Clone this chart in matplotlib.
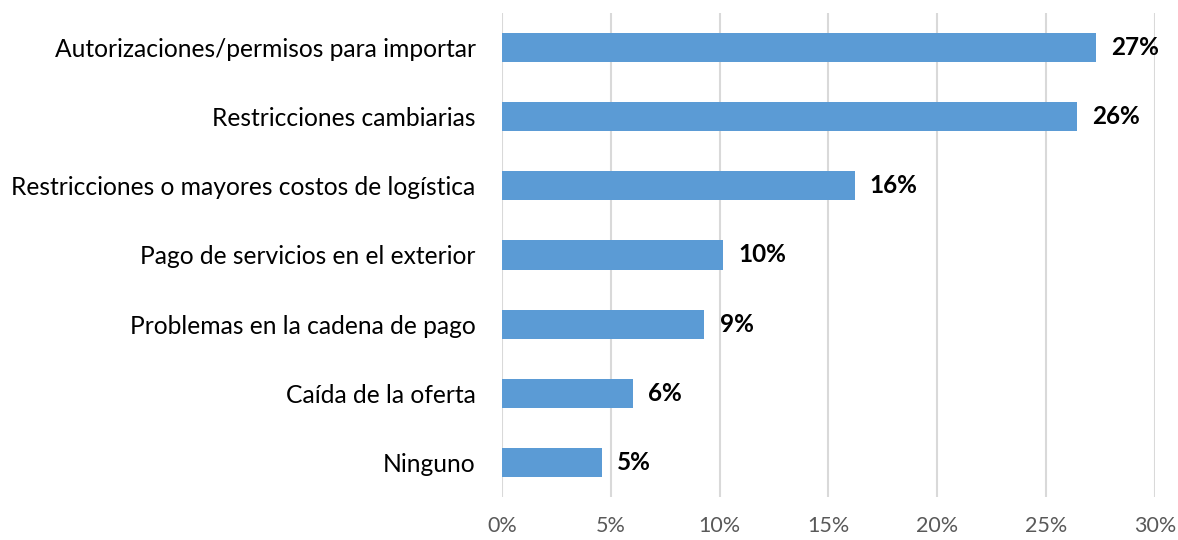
"""
    Horizontal bar chart: obstacles to import
"""

import matplotlib
import matplotlib.pyplot as plt

matplotlib.use('agg')

categories = ['Autorizaciones/permisos para importar',
              'Restricciones cambiarias',
              'Restricciones o mayores costos de logística',
              'Pago de servicios en el exterior',
              'Problemas en la cadena de pago',
              'Caída de la oferta',
              'Ninguno']
values = [27.3, 26.4, 16.2, 10.15, 9.3, 6.0, 4.6]
valueLabels = ['27%', '26%', '16%', '10%', '9%', '6%', '5%']
xticks = [0, 5, 10, 15, 20, 25, 30]
xtickLabels = ['0%', '5%', '10%', '15%', '20%', '25%', '30%']

plt.rcParams['font.family'] = ['Lato', 'DejaVu Sans']

fig = plt.figure(figsize=(11.78, 5.4), dpi=100)
ax = fig.add_axes([0.4261, 0.0796, 0.5544, 0.8964])

ypos = list(range(len(categories)))
ax.barh(ypos, values, height=0.42, color='#5b9bd5', zorder=2)
for y, v, lab in zip(ypos, values, valueLabels):
    ax.annotate(lab, (v, y), xytext=(11, 0), textcoords='offset points',
                va='center', ha='left', fontsize=17.5, fontweight='bold',
                color='black')

ax.set_xlim(0, 30)
ax.set_ylim(len(categories) - 0.5, -0.5)
ax.set_yticks(ypos)
ax.set_yticklabels(categories, fontsize=17.7, color='black')
ax.set_xticks(xticks)
ax.set_xticklabels(xtickLabels, fontsize=15.5, color='#595959')
ax.tick_params(axis='both', length=0)
ax.tick_params(axis='y', pad=19)
ax.tick_params(axis='x', pad=14)
ax.grid(axis='x', color='#d9d9d9', linewidth=1.5, zorder=0)
for sp in ax.spines.values():
    sp.set_visible(False)

fig.savefig('out.png', dpi=100)
